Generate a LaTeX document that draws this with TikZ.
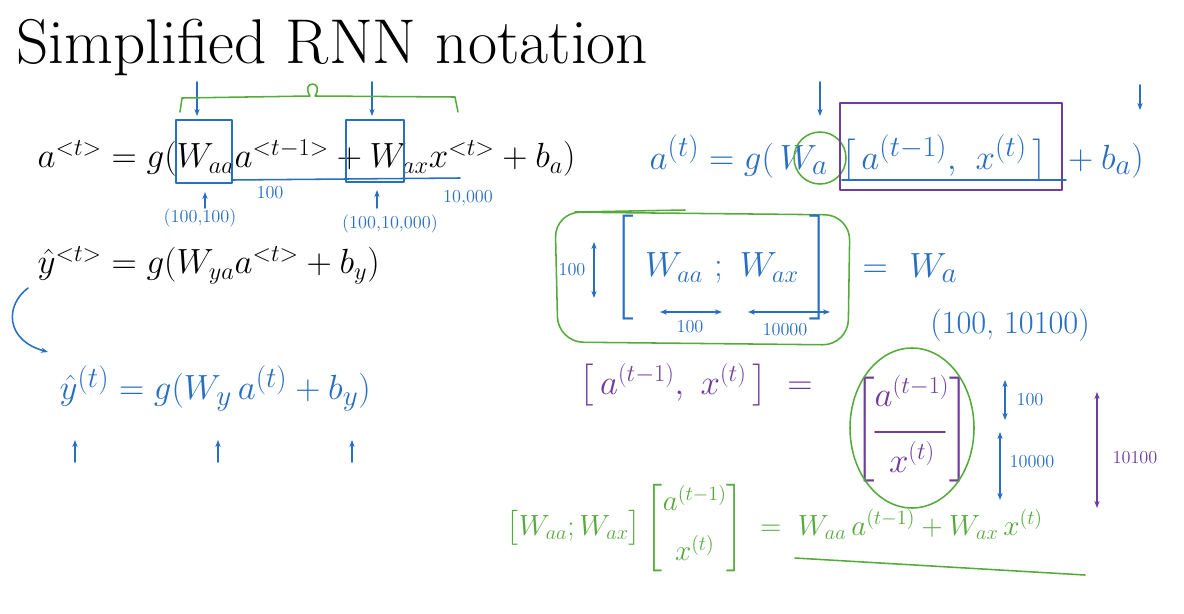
\documentclass[tikz,border=0pt]{standalone}
\usepackage{amsmath}
\usetikzlibrary{positioning,arrows.meta,calc}
\definecolor{penblue}{RGB}{40,110,195}
\definecolor{pengreen}{RGB}{85,170,60}
\definecolor{penpurple}{RGB}{110,60,160}
\tikzset{
  hand/.style={inner sep=1pt,font=\fontsize{23}{27}\selectfont},
  small/.style={inner sep=1pt,font=\fontsize{13}{15}\selectfont},
  pen/.style={line width=1.1pt,line cap=round,line join=round},
  parr/.style={pen,-{Stealth[length=5pt]}},
  darr/.style={pen,{Stealth[length=5pt]}-{Stealth[length=5pt]}}
}
\begin{document}
\begin{tikzpicture}[x=0.025cm,y=-0.025cm]
\useasboundingbox (0,0) rectangle (1184,613);
% title and printed equations
\node[anchor=west,inner sep=0,font=\fontsize{45}{52}\selectfont] (title) at (16,47) {Simplified RNN notation};
\node[anchor=west,hand] (eqa) at (36,158) {$a^{<t>} = g(W_{aa}a^{<t-1>} + W_{ax}x^{<t>} + b_a)$};
\node[anchor=west,hand] (eqy) at (36,265) {$\hat{y}^{<t>} = g(W_{ya}a^{<t>} + b_y)$};
% blue notes on the left equation
\draw[pen,penblue] (176,120) rectangle (232,183) (346,120) rectangle (404,182);
\draw[parr,penblue] (197,82) -- (197,116);
\draw[parr,penblue] (372,82) -- (372,116);
\draw[pen,penblue] (232,180) -- (460,178);
\draw[pen,pengreen] (180,112) -- (182,98) -- (310,96) .. controls (300,80) and (325,80) .. (315,96) -- (455,97) -- (458,112);
\node[small,penblue] (n100) at (270,193) {100};
\node[small,penblue] (n10k) at (468,198) {10,000};
\draw[parr,penblue] (205,208) -- (205,192);
\draw[parr,penblue] (377,208) -- (377,190);
\node[small,penblue] (dimaa) at (200,218) {(100,100)};
\node[small,penblue] (dimax) at (390,224) {(100,10,000)};
\coordinate (cs) at (28,288);
\coordinate (ce) at (48,352);
\draw[parr,penblue] (cs) .. controls (5,305) and (5,340) .. (ce);
\node[anchor=west,hand,penblue,font=\fontsize{28}{32}\selectfont] (eqyh) at (58,388) {$\hat{y}^{(t)} = g(W_y\, a^{(t)} + b_y)$};
\foreach \x in {75,218,352} \draw[parr,penblue] (\x,462) -- (\x,440);
% right: compressed equation
\node[anchor=west,hand,penblue,font=\fontsize{31}{35}\selectfont] (eqr) at (648,158)
  {$a^{(t)} = g(\,W_a\ \big[\,a^{(t-1)},\ x^{(t)}\,\big]\ + b_a)$};
\draw[pen,pengreen] (820,158) ellipse (26 and 26);
\draw[pen,penpurple] (840,103) rectangle (1062,190);
\draw[pen,penblue] (842,180) -- (1066,180);
\draw[parr,penblue] (820,82) -- (820,116);
\draw[parr,penblue] (1140,85) -- (1140,110);
% stacked weight matrix
\draw[pen,pengreen,rounded corners=18pt] (555,212) -- (850,215) -- (848,345) -- (558,342) -- cycle;
\draw[pen,pengreen] (685,210) -- (575,212);
\node[hand,penblue,font=\fontsize{26}{30}\selectfont] (wa) at (722,268) {$\Bigg[\ W_{aa}\ ;\ W_{ax}\ \Bigg]$};
\draw[darr,penblue] (594,242) -- (594,298);
\node[small,penblue] (h100) at (572,270) {100};
\draw[darr,penblue] (660,312) -- (722,312);
\node[small,penblue] (w100) at (690,327) {100};
\draw[darr,penblue] (748,312) -- (830,312);
\node[small,penblue] (w10k) at (785,330) {10000};
\node[hand,penblue,font=\fontsize{28}{32}\selectfont] (eqwa) at (910,268) {$=\ W_a$};
\node[hand,penblue] (dimwa) at (1010,325) {(100, 10100)};
% stacked input
\node[anchor=west,hand,penpurple,font=\fontsize{25}{29}\selectfont] (cat) at (578,385) {$\big[\,a^{(t-1)},\ x^{(t)}\,\big]\ =$};
\node[hand,penpurple,font=\fontsize{25}{29}\selectfont] (stk) at (912,430) {$\left[\begin{matrix} a^{(t-1)}\\[16pt] x^{(t)}\end{matrix}\right]$};
\draw[pen,penpurple] (875,432) -- (945,432);
\draw[pen,pengreen] (912,428) ellipse (62 and 80);
\draw[darr,penblue] (1005,380) -- (1005,420);
\node[small,penblue] (v100) at (1030,400) {100};
\draw[darr,penblue] (1000,432) -- (1000,500);
\node[small,penblue] (v10k) at (1032,462) {10000};
\draw[darr,penpurple] (1097,392) -- (1097,508);
\node[small,penpurple] (v10100) at (1135,458) {10100};
% product
\node[anchor=west,hand,pengreen,font=\fontsize{20}{24}\selectfont] (prod) at (505,528)
  {$\big[W_{aa} ; W_{ax}\big]\left[\begin{matrix} a^{(t-1)}\\[10pt] x^{(t)}\end{matrix}\right]\ =\ W_{aa}\, a^{(t-1)} + W_{ax}\, x^{(t)}$};
\draw[pen,pengreen] (795,558) -- (1085,575);
\end{tikzpicture}
\end{document}
